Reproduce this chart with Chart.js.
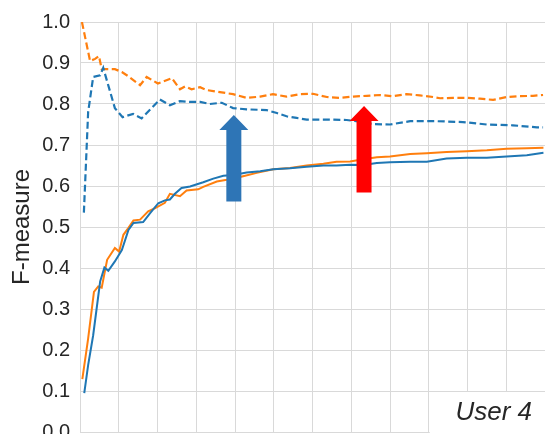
<!DOCTYPE html>
<html>
<head>
<meta charset="utf-8">
<script src="https://cdn.jsdelivr.net/npm/chart.js@4/dist/chart.umd.min.js"></script>
<style>
html,body{margin:0;padding:0;overflow:hidden;background:#fff;}
#wrap{position:absolute;left:0;top:0;width:545px;height:454px;}
</style>
</head>
<body>
<div id="wrap"><canvas id="c" width="545" height="454"></canvas></div>
<script>
// ---- data ----
const xOrangeDashed = [0.5, 2.6, 3.9, 4.9, 5.6, 9.0, 10.8, 12.4, 15.5, 17.2, 20.1, 23.7, 25.8, 27.1, 28.8, 31.0, 32.7, 36.1, 39.5, 43.0, 46.5, 49.8, 53.3, 56.8, 60.1, 63.7, 67.1, 70.5, 74.0, 77.4, 80.8, 84.3, 87.7, 91.1, 92.9, 96.3, 99.8, 103.2, 106.6, 110.1, 113.5, 116.9, 119.5];
const yOrangeDashed = [1.0, 0.905, 0.91, 0.917, 0.885, 0.885, 0.878, 0.868, 0.846, 0.866, 0.85, 0.863, 0.836, 0.843, 0.836, 0.841, 0.834, 0.829, 0.824, 0.815, 0.818, 0.824, 0.818, 0.824, 0.825, 0.817, 0.815, 0.818, 0.82, 0.822, 0.819, 0.824, 0.821, 0.817, 0.814, 0.815, 0.815, 0.813, 0.81, 0.817, 0.819, 0.82, 0.822];

const xBlueDashed = [1.0, 2.1, 3.4, 5.2, 6.0, 9.0, 11.0, 13.7, 15.9, 20.6, 23.2, 25.8, 28.4, 31.0, 33.5, 36.6, 39.5, 43.0, 48.2, 50.8, 53.3, 55.9, 58.5, 63.7, 68.8, 72.3, 75.6, 80.0, 85.2, 92.1, 98.8, 105.0, 111.7, 117.9, 119.5];
const yBlueDashed = [0.535, 0.78, 0.866, 0.87, 0.888, 0.79, 0.768, 0.776, 0.765, 0.811, 0.797, 0.807, 0.805, 0.805, 0.80, 0.803, 0.79, 0.787, 0.785, 0.778, 0.77, 0.766, 0.762, 0.762, 0.761, 0.757, 0.751, 0.75, 0.758, 0.758, 0.756, 0.75, 0.748, 0.743, 0.743];

const xBlueSolid = [1.1, 2.1, 3.4, 5.2, 6.3, 7.3, 9.0, 10.8, 12.5, 13.8, 16.3, 18.1, 20.2, 21.9, 23.2, 24.5, 26.2, 28.4, 31.8, 34.4, 37.0, 39.6, 43.0, 46.5, 49.9, 54.2, 58.5, 62.8, 66.2, 69.7, 73.1, 76.6, 80.0, 85.2, 89.5, 94.6, 99.8, 105.0, 110.1, 115.3, 119.6];
const yBlueSolid = [0.095, 0.163, 0.236, 0.367, 0.401, 0.393, 0.416, 0.444, 0.493, 0.51, 0.512, 0.534, 0.558, 0.565, 0.567, 0.581, 0.595, 0.599, 0.609, 0.618, 0.625, 0.627, 0.633, 0.636, 0.641, 0.643, 0.647, 0.65, 0.65, 0.652, 0.651, 0.656, 0.658, 0.659, 0.659, 0.667, 0.669, 0.669, 0.672, 0.675, 0.681];

const xOrangeSolid = [0.6, 2.1, 3.6, 4.7, 5.6, 7.0, 9.0, 10.1, 11.2, 12.5, 13.8, 15.5, 17.6, 19.4, 21.9, 23.2, 25.8, 27.5, 30.5, 31.8, 35.3, 37.9, 42.1, 45.6, 49.9, 54.2, 58.5, 62.8, 66.2, 69.7, 73.1, 76.6, 80.0, 85.2, 89.5, 94.6, 99.8, 105.0, 110.1, 115.3, 119.6];
const yOrangeSolid = [0.129, 0.228, 0.342, 0.355, 0.352, 0.42, 0.449, 0.44, 0.481, 0.498, 0.516, 0.518, 0.538, 0.546, 0.559, 0.581, 0.575, 0.589, 0.592, 0.598, 0.611, 0.615, 0.624, 0.632, 0.641, 0.644, 0.65, 0.654, 0.659, 0.66, 0.665, 0.67, 0.672, 0.678, 0.68, 0.683, 0.685, 0.687, 0.691, 0.692, 0.693];

// annotations (data coordinates)
const arrowX = [39.7, 73.3];
const arrowTop = [0.773, 0.795];
const arrowBottom = [0.562, 0.584];
const arrowColors = ['#2e75b6', '#ff0000'];
const labelText = 'User 4';
const labelBox = {x0: 90, x1: 120, y0: 0, y1: 0.1};

const yAxisTitle = 'F-measure';
const xMin = 0, xMax = 120, xStep = 10;
const yMin = 0, yMax = 1, yStep = 0.05;

function pts(xs, ys){ return xs.map((x,i)=>({x:x, y:ys[i]})); }

const BLUE = '#1f77b4', ORANGE = '#ff7f0e';
const TXT = '#262626';

const annot = {
  id: 'annot',
  beforeDatasetsDraw(chart){
    const ctx = chart.ctx, xs = chart.scales.x, ys = chart.scales.y;
    const l = xs.getPixelForValue(labelBox.x0), r = xs.getPixelForValue(labelBox.x1);
    const t = ys.getPixelForValue(labelBox.y1), b = ys.getPixelForValue(labelBox.y0);
    ctx.save();
    ctx.fillStyle = '#fff';
    ctx.fillRect(l + 1, t + 1, r - l, b - t + 10);
    ctx.fillStyle = TXT;
    ctx.font = 'italic 26px "Liberation Sans", Arial, sans-serif';
    ctx.textAlign = 'right';
    ctx.textBaseline = 'middle';
    ctx.fillText(labelText, r - 13, (t + b) / 2 + 1);
    ctx.restore();
  },
  afterDatasetsDraw(chart){
    const ctx = chart.ctx, xs = chart.scales.x, ys = chart.scales.y;
    ctx.save();
    for (let i = 0; i < arrowX.length; i++){
      const cx = xs.getPixelForValue(arrowX[i]);
      const yt = ys.getPixelForValue(arrowTop[i]);
      const yb = ys.getPixelForValue(arrowBottom[i]);
      const headLen = 15, headHalf = 14.5, shaftHalf = 7.5;
      ctx.fillStyle = arrowColors[i];
      ctx.beginPath();
      ctx.moveTo(cx, yt);
      ctx.lineTo(cx + headHalf, yt + headLen);
      ctx.lineTo(cx + shaftHalf, yt + headLen);
      ctx.lineTo(cx + shaftHalf, yb);
      ctx.lineTo(cx - shaftHalf, yb);
      ctx.lineTo(cx - shaftHalf, yt + headLen);
      ctx.lineTo(cx - headHalf, yt + headLen);
      ctx.closePath();
      ctx.fill();
    }
    ctx.restore();
  }
};

new Chart(document.getElementById('c'), {
  type: 'line',
  data: {
    datasets: [
      {data: pts(xBlueSolid, yBlueSolid), borderColor: BLUE, borderWidth: 2},
      {data: pts(xOrangeSolid, yOrangeSolid), borderColor: ORANGE, borderWidth: 2},
      {data: pts(xBlueDashed, yBlueDashed), borderColor: BLUE, borderWidth: 2.2, borderDash: [7, 3.5]},
      {data: pts(xOrangeDashed, yOrangeDashed), borderColor: ORANGE, borderWidth: 2.2, borderDash: [7, 3.5]}
    ]
  },
  options: {
    responsive: false,
    animation: false,
    events: [],
    layout: {padding: {top: 21, right: 0, bottom: 0, left: 0}},
    elements: {point: {radius: 0}, line: {tension: 0, fill: false}},
    plugins: {legend: {display: false}, tooltip: {enabled: false}},
    scales: {
      x: {
        type: 'linear', min: xMin, max: xMax,
        ticks: {display: false, stepSize: xStep},
        grid: {color: '#d9d9d9', lineWidth: 1, drawTicks: false},
        border: {display: false}
      },
      y: {
        type: 'linear', min: yMin, max: yMax,
        afterFit(s){ s.width = 80; },
        ticks: {
          stepSize: yStep,
          padding: 10,
          color: TXT,
          font: {family: '"Liberation Sans", Arial, sans-serif', size: 20},
          callback(v){ const k = Math.round(v * 20); return k % 2 === 0 ? (k / 20).toFixed(1) : ''; }
        },
        grid: {color: '#d9d9d9', lineWidth: 1, drawTicks: false},
        border: {display: false},
        title: {
          display: true, text: yAxisTitle, color: TXT,
          font: {family: '"Liberation Sans", Arial, sans-serif', size: 24},
          padding: {top: 8, bottom: 0}
        }
      }
    }
  },
  plugins: [annot]
});
</script>
</body>
</html>
